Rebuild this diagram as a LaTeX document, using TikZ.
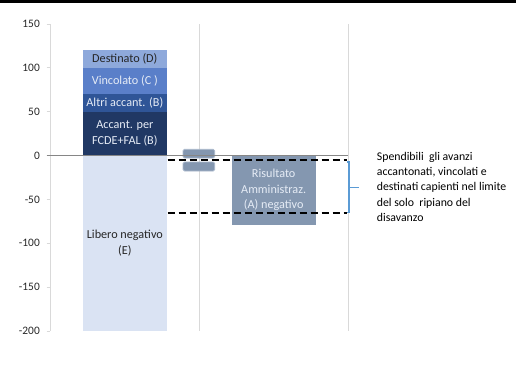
\documentclass[tikz,border=0pt]{standalone}
\usepackage{fontspec}
\setmainfont{Carlito}
\definecolor{cD}{HTML}{8EA9DB}
\definecolor{cC}{HTML}{5A7FC9}
\definecolor{cB}{HTML}{2F5597}
\definecolor{cA}{HTML}{203864}
\definecolor{cE}{HTML}{DAE3F3}
\definecolor{cR}{HTML}{8497B0}
\definecolor{cRb}{HTML}{A9B8CC}
\definecolor{grid}{HTML}{D9D9D9}
\definecolor{zero}{HTML}{868686}
\definecolor{brace}{HTML}{5B9BD5}
\definecolor{lbl}{HTML}{262626}
\definecolor{wtxt}{HTML}{E6ECF6}
\begin{document}
\begin{tikzpicture}[x=1pt,y=-1pt,
  every node/.style={font=\fontsize{12.2}{15.5}\selectfont},
  bar/.style={inner sep=0pt, minimum width=83.7pt, align=center},
  tick/.style={anchor=east, text=lbl, inner sep=0pt, font=\fontsize{11.4}{14}\selectfont},
  gridline/.style={draw=grid, line width=0.8pt},
  dashline/.style={draw=black, dashed, dash pattern=on 7pt off 4pt, line width=1.4pt},
  smallbox/.style={fill=cR, draw=cRb, line width=0.8pt, rounded corners=1.5pt, minimum width=31.7pt, inner sep=0pt}]
\useasboundingbox (0,0) rectangle (523,372);
% top rule
\draw[line width=2.5pt] (0,1.5) -- (516,1.5);
% grid
\draw[gridline] (50,24) -- (50,330.9);
\draw[gridline] (199.5,24) -- (199.5,330.9);
\draw[gridline] (348,24) -- (348,330.9);
\foreach \v/\p in {150/24.0,100/67.8,50/111.65,0/155.5,-50/199.35,-100/243.2,-150/287.05,-200/330.9}{
  \draw[gridline] (46.5,\p) -- (50,\p);
  \node[tick] (t\v) at (40,\p) {\v};
}
% bars
\node[bar, fill=cE, minimum height=175.4pt, text=lbl] (E) at (124.85,243.2) {Libero negativo\\(E)};
\node[bar, fill=cD, minimum height=17.54pt, text=lbl] (D) at (124.85,59.03) {Destinato (D)};
\node[bar, fill=cC, minimum height=26.3pt, text=wtxt] (C) at (124.85,80.95) {Vincolato (C )};
\node[bar, fill=cB, minimum height=17.55pt, text=wtxt] (B) at (124.85,102.9) {Altri accant. (B)};
\node[bar, fill=cA, minimum height=43.85pt, text=wtxt] (A) at (124.85,133.6) {Accant. per\\FCDE+FAL (B)};
\node[smallbox, minimum height=8.7pt] (s1) at (198.85,153.65) {};
\node[smallbox, minimum height=9pt] (s2) at (198.85,166.5) {};
\node[bar, fill=cR, minimum width=84pt, minimum height=69.2pt, text=wtxt] (R) at (273.7,190.1) {Risultato\\Amministraz.\\(A) negativo};
% zero line
\draw[draw=zero, line width=1.4pt] (46.5,155.5) -- (348,155.5);
% dashed limits
\coordinate (d1a) at (167.7,160);
\coordinate (d1b) at (346.7,160);
\coordinate (d2a) at (167.7,212.8);
\coordinate (d2b) at (346.7,212.8);
\draw[dashline] (d1a) -- (d1b);
\draw[dashline] (d2a) -- (d2b);
% brace
\coordinate (br1) at (346.5,162);
\coordinate (br2) at (346.5,212.7);
\coordinate (brm) at (349,187.3);
\coordinate (brt) at (359,187.3);
\draw[draw=brace, line width=1.2pt] (br1) -- (349,162) -- (349,212.7) -- (br2);
\draw[draw=brace, line width=1.2pt] (brm) -- (brt);
\node[anchor=west, align=left, inner sep=0pt, text=black, font=\fontsize{11.8}{15.3}\selectfont] (note) at (376.7,186.7) {Spendibili\ \ gli avanzi\\accantonati, vincolati e\\destinati capienti nel limite\\del solo\ \ ripiano del\\disavanzo};
\end{tikzpicture}
\end{document}
